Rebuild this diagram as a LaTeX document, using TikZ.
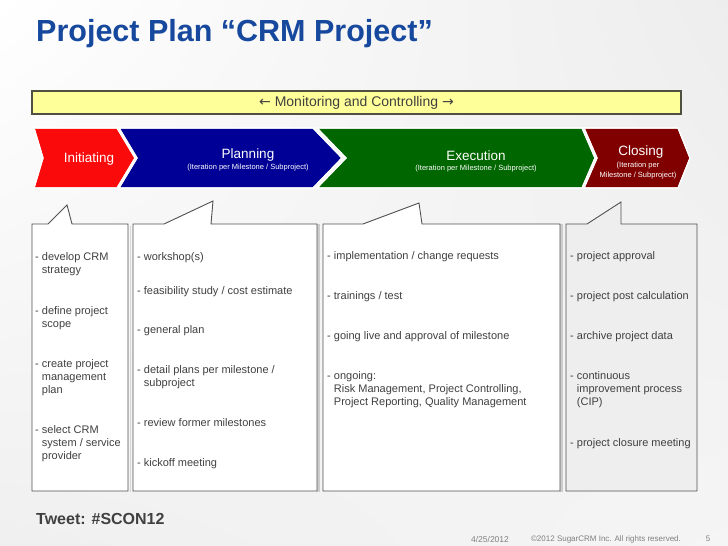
\documentclass[tikz,border=0pt]{standalone}
\usepackage{fontspec}
\setmainfont{Liberation Sans}
\newfontfamily\arrowfont{DejaVu Sans}
\usepackage{xcolor}
\usetikzlibrary{shadings}
\definecolor{titleblue}{RGB}{22,72,158}
\definecolor{barfill}{RGB}{255,255,153}
\definecolor{barline}{RGB}{80,80,64}
\definecolor{initred}{RGB}{250,10,10}
\definecolor{planblue}{RGB}{0,0,150}
\definecolor{execgreen}{RGB}{0,102,0}
\definecolor{closered}{RGB}{128,0,0}
\definecolor{boxline}{RGB}{80,80,80}
\definecolor{itemgray}{RGB}{64,64,64}
\newcommand{\contd}{\hphantom{- }}

\begin{document}
\begin{tikzpicture}[x=1pt,y=-1pt,
	phase/.style={draw=white,line width=1.2pt},
	phasetitle/.style={text=white,font=\fontsize{13.5}{14}\selectfont},
	phasenote/.style={text=white,font=\fontsize{7.5}{10.5}\selectfont,align=center},
	callout/.style={draw=boxline,line width=0.9pt},
	item/.style={anchor=base west,align=left,inner sep=0pt,text=itemgray,font=\fontsize{11}{13.3}\selectfont},
	foot/.style={text=gray,font=\fontsize{8}{9}\selectfont}]
		% BACKGROUND
		\shade [upper left=white,upper right=gray!14,lower left=gray!12,lower right=gray!8] (0,0) rectangle (728,546);
		\useasboundingbox (0,0) rectangle (728,546);
		% TITLE
		\node [anchor=base west,inner sep=0pt,text=titleblue,font=\fontsize{30.5}{31}\bfseries\selectfont] (title) at (36,41) {Project Plan “CRM Project”};
		% MONITORING BAR
		\node [draw=barline,fill=barfill,line width=1.5pt,minimum width=649,minimum height=23,inner sep=0pt,text=black!75,font=\fontsize{14}{15}\selectfont] (monitor) at (356.5,102.5) {{\arrowfont ←} Monitoring and Controlling {\arrowfont →}};
		% PHASES
		\fill [phase,fill=initred] (34,128) -- (117,128) -- (135,158) -- (117,188) -- (34,188) -- (43,158) -- cycle;
		\fill [phase,fill=planblue] (119,128) -- (313,128) -- (342,158) -- (313,188) -- (119,188) -- (137,158) -- cycle;
		\fill [phase,fill=execgreen] (317,128) -- (582,128) -- (595,158) -- (582,188) -- (317,188) -- (346,158) -- cycle;
		\fill [phase,fill=closered] (584,128) -- (678,128) -- (690,158) -- (678,188) -- (584,188) -- (597,158) -- cycle;
		\draw [phase] (34,128) -- (117,128) -- (135,158) -- (117,188) -- (34,188) -- (43,158) -- cycle;
		\draw [phase] (119,128) -- (313,128) -- (342,158) -- (313,188) -- (119,188) -- (137,158) -- cycle;
		\draw [phase] (317,128) -- (582,128) -- (595,158) -- (582,188) -- (317,188) -- (346,158) -- cycle;
		\draw [phase] (584,128) -- (678,128) -- (690,158) -- (678,188) -- (584,188) -- (597,158) -- cycle;
		\node [phasetitle] (initiating) at (89,159) {Initiating};
		\node [phasetitle] (planning) at (248,155) {Planning};
		\node [phasenote] (plannote) at (248,168) {(Iteration per Milestone / Subproject)};
		\node [phasetitle] (execution) at (476,156) {Execution};
		\node [phasenote] (execnote) at (476,169) {(Iteration per Milestone / Subproject)};
		\node [phasetitle] (closing) at (641,152) {Closing};
		\node [phasenote] (closenote) at (638,170.5) {(Iteration per\\Milestone / Subproject)};
		% CALLOUTS
		\fill [gray!30] (130,226) -- (130.5,226) -- (130.5,492) -- (130,492) -- cycle;
		\fill [gray!40] (317,224) -- (320,224) -- (320,492) -- (317,492) -- cycle;
		\fill [gray!40] (560,224) -- (563,224) -- (563,492) -- (560,492) -- cycle;
		\draw [callout,fill=white] (32,224) -- (48,224) -- (67,205) -- (72,224) -- (128,224) -- (128,491) -- (32,491) -- cycle;
		\draw [callout,fill=white] (133,224) -- (164,224) -- (213,201) -- (211,224) -- (317,224) -- (317,491) -- (133,491) -- cycle;
		\draw [callout,fill=white] (323,224) -- (363,224) -- (419,203) -- (422,224) -- (560,224) -- (560,491) -- (323,491) -- cycle;
		\draw [callout,fill=gray!13] (566,224) -- (587,224) -- (621,202) -- (621,224) -- (697,224) -- (697,491) -- (566,491) -- cycle;
		% INITIATING ITEMS
		\node [item] (init1) at (35,273.3) {- develop CRM\\\contd strategy};
		\node [item] (init2) at (35,327.3) {- define project\\\contd scope};
		\node [item] (init3) at (35,393.6) {- create project\\\contd management\\\contd plan};
		\node [item] (init4) at (35,459.6) {- select CRM\\\contd system / service\\\contd provider};
		% PLANNING ITEMS
		\node [item] (plan1) at (137,260) {- workshop(s)};
		\node [item] (plan2) at (137,294) {- feasibility study / cost estimate};
		\node [item] (plan3) at (137,333) {- general plan};
		\node [item] (plan4) at (137,386.3) {- detail plans per milestone /\\\contd subproject};
		\node [item] (plan5) at (137,426) {- review former milestones};
		\node [item] (plan6) at (137,466) {- kickoff meeting};
		% EXECUTION ITEMS
		\node [item] (exec1) at (327,259) {- implementation / change requests};
		\node [item] (exec2) at (327,299) {- trainings / test};
		\node [item] (exec3) at (327,339) {- going live and approval of milestone};
		\node [item] (exec4) at (327,405.6) {- ongoing:\\\contd Risk Management, Project Controlling,\\\contd Project Reporting, Quality Management};
		% CLOSING ITEMS
		\node [item] (close1) at (570,259) {- project approval};
		\node [item] (close2) at (570,299) {- project post calculation};
		\node [item] (close3) at (570,339) {- archive project data};
		\node [item] (close4) at (570,405.6) {- continuous\\\contd improvement process\\\contd (CIP)};
		\node [item] (close5) at (570,446) {- project closure meeting};
		% FOOTER
		\node [anchor=base west,inner sep=0pt,text=black!75,font=\fontsize{16}{16}\bfseries\selectfont] (tweet) at (36,524) {Tweet: \#SCON12};
		\node [foot,font=\fontsize{8.5}{9}\selectfont] (date) at (490,539) {4/25/2012};
		\node [foot] (copyright) at (606,539) {©2012 SugarCRM Inc. All rights reserved.};
		\node [foot] (page) at (708,539) {5};
		\end{tikzpicture}
\end{document}
